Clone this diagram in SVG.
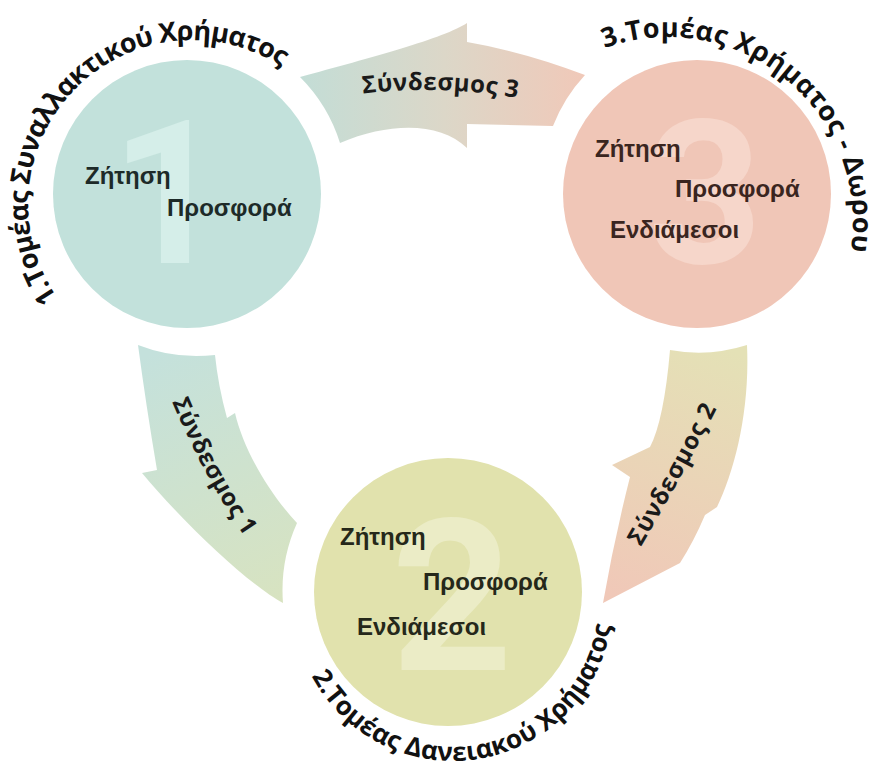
<svg xmlns="http://www.w3.org/2000/svg" xmlns:xlink="http://www.w3.org/1999/xlink" width="869" height="761" viewBox="0 0 869 761">
<style>
.num{font-family:Roboto,"Liberation Sans",sans-serif;font-weight:bold;text-anchor:middle}
.lbl{font-family:"Liberation Sans",Arial,sans-serif;font-weight:bold;font-size:24px}
.title{font-family:"Open Sans","DejaVu Sans",sans-serif;font-weight:700;font-size:27px;fill:#111}
.link{font-family:"Open Sans","DejaVu Sans",sans-serif;font-weight:700;font-size:24px;fill:#1a1a1a;text-anchor:middle}
</style>
<defs>
<linearGradient id="g3" gradientUnits="userSpaceOnUse" x1="300" y1="80" x2="590" y2="80">
<stop offset="0" stop-color="#c3ddd6"/><stop offset="0.5" stop-color="#dcd7c8"/><stop offset="1" stop-color="#f1c8b8"/>
</linearGradient>
<linearGradient id="g1" gradientUnits="userSpaceOnUse" x1="170" y1="345" x2="290" y2="600">
<stop offset="0" stop-color="#c4e1dc"/><stop offset="1" stop-color="#d8e3c0"/>
</linearGradient>
<linearGradient id="g2" gradientUnits="userSpaceOnUse" x1="630" y1="600" x2="715" y2="345">
<stop offset="0" stop-color="#f0c8b8"/><stop offset="1" stop-color="#e4e1b6"/>
</linearGradient>
<path id="p1" d="M 57.7,298.1 A 164 164 0 0 1 281.3,66.5"/>
<path id="p3" d="M 604.7,48.2 A 185 185 0 0 1 850.7,250.9"/>
<path id="p2" d="M 311.7,676.1 A 160 160 0 0 0 611,626"/>
<path id="l3" d="M 352,95 Q 440,83 528,100"/>
<path id="l1" d="M 168.7,393.7 Q 201,473.5 249.3,543.3"/>
<path id="l2" d="M 628,568.5 Q 682,478.5 728,386.5"/>
</defs>
<rect width="869" height="761" fill="#ffffff"/>
<g id="connectors">
<g id="link3">
<path fill="url(#g3)" d="M 300,77 A 162 162 0 0 1 340,143 C 390,122 440,122 467,148 L 467,124 L 553,126 A 161 161 0 0 1 585,75 Q 525,52 467,42 L 467,23 C 445,38 370,58 300,77 Z"/>
<text class="link"><textPath xlink:href="#l3" href="#l3" startOffset="50%" textLength="155">Σύνδεσμος 3</textPath></text>
</g>
<g id="link1">
<path fill="url(#g1)" d="M 138,345 A 161 161 0 0 0 215,355 Q 218,385 227,418 L 235,413 C 243,448 268,492 297,523 A 164 164 0 0 0 283,603 C 250,585 190,530 142,473 L 157,470 Q 146,405 138,345 Z"/>
<text class="link"><textPath xlink:href="#l1" href="#l1" startOffset="50%" textLength="153">Σύνδεσμος 1</textPath></text>
</g>
<g id="link2">
<path fill="url(#g2)" d="M 603,603 L 680,563 Q 694,541 705,515 L 717,507 C 735,470 750,410 747,345 A 159 159 0 0 1 670,350 Q 664,420 650,447 L 612,465 L 630,477 Q 614,540 603,603 Z"/>
<text class="link"><textPath xlink:href="#l2" href="#l2" startOffset="50%" textLength="158">Σύνδεσμος 2</textPath></text>
</g>
</g>
<g id="node-1">
<circle cx="187" cy="194" r="134" fill="#c2e1db"/>
<text class="num" x="168" y="263" font-size="200" fill="#d5eee9">1</text>
<text class="lbl" x="85" y="184" fill="#1d2a28">Ζήτηση</text>
<text class="lbl" x="167" y="216" fill="#1d2a28">Προσφορά</text>
<text class="title"><textPath xlink:href="#p1" href="#p1" textLength="452">1.Τομέας Συναλλακτικού Χρήματος</textPath></text>
</g>
<g id="node-3">
<circle cx="697" cy="194" r="134" fill="#f0c6b7"/>
<text class="num" x="705" y="263" font-size="200" fill="#f6d6ca">3</text>
<text class="lbl" x="595" y="157" fill="#3a2520">Ζήτηση</text>
<text class="lbl" x="675" y="197" fill="#3a2520">Προσφορά</text>
<text class="lbl" x="610" y="238" fill="#3a2520">Ενδιάμεσοι</text>
<text class="title"><textPath xlink:href="#p3" href="#p3" textLength="384">3.Τομέας Χρήματος - Δωρου</textPath></text>
</g>
<g id="node-2">
<circle cx="448" cy="592" r="134" fill="#e1e2ad"/>
<text class="num" x="452" y="670" font-size="212" fill="#ebecc6">2</text>
<text class="lbl" x="340" y="545" fill="#25281a">Ζήτηση</text>
<text class="lbl" x="423" y="590" fill="#25281a">Προσφορά</text>
<text class="lbl" x="357" y="635" fill="#25281a">Ενδιάμεσοι</text>
<text class="title" style="font-size:26px"><textPath xlink:href="#p2" href="#p2" textLength="399">2.Τομέας Δανειακού Χρήματος</textPath></text>
</g>
</svg>
